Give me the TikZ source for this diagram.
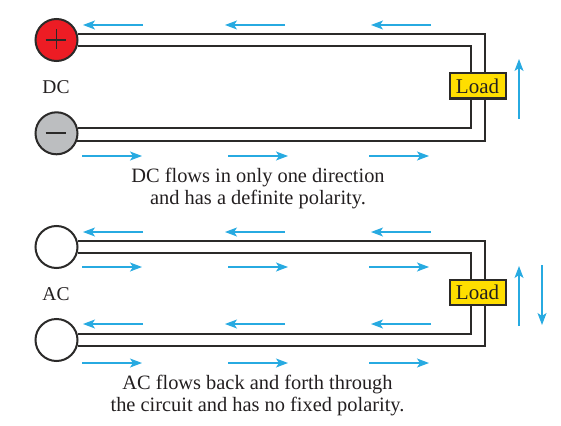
\documentclass[tikz,border=0pt]{standalone}
\usepackage{fontspec}
\setmainfont{Liberation Serif}
\usetikzlibrary{arrows.meta,positioning}
\definecolor{acWire}{HTML}{2B2A29}
\definecolor{acFlow}{HTML}{27AAE1}
\definecolor{acPlus}{HTML}{ED1C24}
\definecolor{acMinus}{HTML}{BCBEC0}
\definecolor{acLoad}{HTML}{FFDE00}
\definecolor{acText}{HTML}{231F20}
\tikzset{
  source/.style={circle,draw=acWire,line width=2pt,fill=white,minimum size=42pt,inner sep=0pt},
  loadbox/.style={draw=acWire,line width=2pt,fill=acLoad,text=acText,minimum width=56pt,minimum height=25pt,
                  inner sep=0pt,font=\fontsize{21}{22}\selectfont},
  wire/.style={draw=acWire,line width=2pt},
  sign/.style={draw=acWire,line width=1.7pt},
  flow/.style={-{Stealth[length=12pt,width=9pt,inset=3pt]},draw=acFlow,line width=1.2pt},
  lbl/.style={text=acText,inner sep=0pt,align=center,font=\fontsize{20.4}{22}\selectfont},
}
\begin{document}
\begin{tikzpicture}[x=1pt,y=-1pt]
  \useasboundingbox (0,0) rectangle (561,425);

  % DC circuit
  \node[source,fill=acPlus] (dcPlus) at (56.5,40) {};
  \node[source,fill=acMinus] (dcMinus) at (56.5,133.3) {};
  \node[loadbox] (dcLoad) at (477.5,86) {Load};
  \node[lbl,font=\fontsize{19.5}{22}\selectfont] (dcName) at (56,87) {DC};
  \node[lbl] (dcNote) at (258,188.5) {DC flows in only one direction\\and has a definite polarity.};
  \draw[sign] (dcPlus.west)++(11,0) -- ++(20,0) (dcPlus.north)++(0,11) -- ++(0,20);
  \draw[sign] (dcMinus.west)++(11,0) -- ++(20,0);
  \draw[wire] (dcPlus.16) -| ([xshift=7pt]dcLoad.north);
  \draw[wire] (dcPlus.-17) -| ([xshift=-7pt]dcLoad.north);
  \draw[wire] (dcMinus.13) -| ([xshift=-7pt]dcLoad.south);
  \draw[wire] (dcMinus.-20) -| ([xshift=7pt]dcLoad.south);

  % AC circuit
  \node[source] (acTop) at (56.5,247) {};
  \node[source] (acBot) at (56.5,340) {};
  \node[loadbox] (acLoad) at (477.5,292) {Load};
  \node[lbl,font=\fontsize{19.5}{22}\selectfont] (acName) at (56,294) {AC};
  \node[lbl] (acNote) at (257.5,395.5) {AC flows back and forth through\\the circuit and has no fixed polarity.};
  \draw[wire] (acTop.16) -| ([xshift=7pt]acLoad.north);
  \draw[wire] (acTop.-16) -| ([xshift=-7pt]acLoad.north);
  \draw[wire] (acBot.16) -| ([xshift=-7pt]acLoad.south);
  \draw[wire] (acBot.-16) -| ([xshift=7pt]acLoad.south);

  % current arrows
  \foreach \xa/\ya [count=\n] in {143/25,285/25,431/25,143/232,285/232,431/232,143/324,285/324,431/324}{
    \coordinate (back\n) at (\xa,\ya);
    \draw[flow] (back\n) -- ++(-60,0);
  }
  \foreach \xa/\ya [count=\n] in {82/156,228/156,369/156,82/267,228/267,369/267,82/363,228/363,369/363}{
    \coordinate (fwd\n) at (\xa,\ya);
    \draw[flow] (fwd\n) -- ++(60,0);
  }
  \foreach \ya [count=\n] in {119,326}{
    \coordinate (up\n) at (519,\ya);
    \draw[flow] (up\n) -- ++(0,-60);
  }
  \coordinate (down1) at (542,265);
  \draw[flow] (down1) -- ++(0,60);
\end{tikzpicture}
\end{document}
